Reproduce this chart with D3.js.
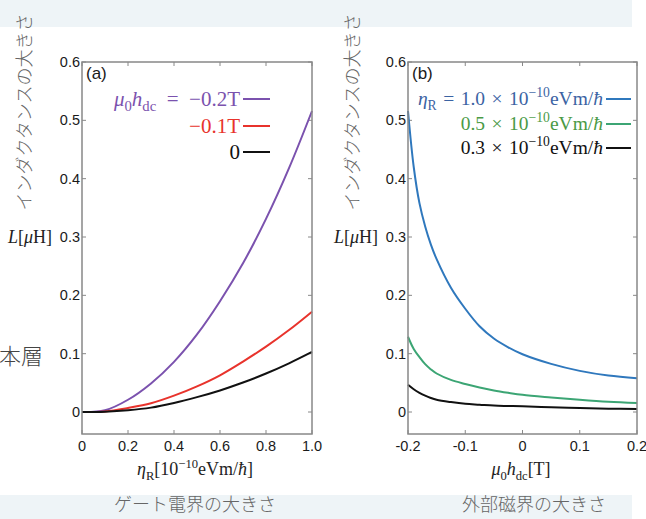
<!DOCTYPE html>
<html>
<head>
<meta charset="utf-8">
<script src="https://cdn.jsdelivr.net/npm/d3@7"></script>
<style>
  body { margin: 0; background: #fff; }
  svg { display: block; }
  .tick-label { font-family: "Liberation Sans", Arial, sans-serif; font-size: 14.5px; fill: #1a1a1a; }
  .math { font-family: "Liberation Serif", "Times New Roman", serif; }
  .jp { font-family: "Noto Sans CJK JP", sans-serif; font-weight: 300; fill: #666; }
</style>
</head>
<body>
<div id="chart"></div>
<script>
// 1: DATA
// panel (a): L vs eta_R for three dc fields
const etaR = [0, 0.1, 0.2, 0.3, 0.4, 0.5, 0.6, 0.7, 0.8, 0.9, 1.0];
const L_m02 = [0, 0.003, 0.021, 0.049, 0.086, 0.133, 0.19, 0.255, 0.331, 0.418, 0.516];
const L_m01 = [0, 0.001, 0.007, 0.015, 0.028, 0.044, 0.063, 0.0865, 0.112, 0.1405, 0.172];
const L_0   = [0, 0.0006, 0.003, 0.0075, 0.0155, 0.0255, 0.037, 0.0505, 0.066, 0.0835, 0.103];

// panel (b): L vs mu0 h_dc for three eta_R
const hdc = [-0.2, -0.19, -0.18, -0.17, -0.16, -0.15, -0.125, -0.1, -0.075, -0.05, -0.025, 0, 0.05, 0.1, 0.15, 0.2];
const L_eta10 = [0.516, 0.42, 0.358, 0.318, 0.287, 0.262, 0.213, 0.177, 0.147, 0.126, 0.111, 0.099, 0.0825, 0.0705, 0.0625, 0.058];
const L_eta05 = [0.129, 0.108, 0.094, 0.082, 0.073, 0.066, 0.055, 0.048, 0.042, 0.037, 0.033, 0.0295, 0.025, 0.021, 0.0176, 0.0153];
const L_eta03 = [0.0466, 0.039, 0.033, 0.028, 0.024, 0.021, 0.017, 0.014, 0.0125, 0.011, 0.0103, 0.0097, 0.008, 0.0068, 0.0057, 0.005];

const yTicks = [0, 0.1, 0.2, 0.3, 0.4, 0.5, 0.6];
const yTickLabels = ["0", "0.1", "0.2", "0.3", "0.4", "0.5", "0.6"];
const xTicksA = [0, 0.2, 0.4, 0.6, 0.8, 1.0];
const xTickLabelsA = ["0", "0.2", "0.4", "0.6", "0.8", "1.0"];
const xTicksB = [-0.2, -0.1, 0, 0.1, 0.2];
const xTickLabelsB = ["-0.2", "-0.1", "0", "0.1", "0.2"];

const W = 646, H = 519;
const plotTop = 62, plotBottom = 434;

const svg = d3.select("#chart").append("svg")
    .attr("width", W)
    .attr("height", H);

// background bands
svg.append("rect").attr("x", 0).attr("y", 0).attr("width", 632).attr("height", 27).attr("fill", "#eef4f7");
svg.append("rect").attr("x", 0).attr("y", 495).attr("width", 632).attr("height", 24).attr("fill", "#eef4f7");

// helper for math-like text made of tspans
function mathText(g, x, y, size, color, anchor, parts) {
    const t = g.append("text")
        .attr("class", "math")
        .attr("x", x).attr("y", y)
        .attr("font-size", size)
        .attr("fill", color)
        .attr("text-anchor", anchor);
    let shift = 0;
    parts.forEach(p => {
        const s = t.append("tspan").text(p.t);
        let target = 0;
        if (p.sub) target = size * 0.25;
        if (p.sup) target = -size * 0.4;
        s.attr("dy", target - shift);
        shift = target;
        if (p.sub || p.sup) s.attr("font-size", size * 0.7);
        if (p.it) s.attr("font-style", "italic");
    });
    return t;
}

function panel(opts) {
    const x = d3.scaleLinear().domain(opts.xDomain).range([opts.left, opts.right]);
    const y = d3.scaleLinear().domain([-0.0377, 0.6]).range([plotBottom, plotTop]);
    const g = svg.append("g");

    // ticks on all four sides (inward)
    const tl = 4;
    opts.xTicks.forEach(v => {
        g.append("line").attr("x1", x(v)).attr("x2", x(v)).attr("y1", plotBottom).attr("y2", plotBottom - tl).attr("stroke", "#888");
        g.append("line").attr("x1", x(v)).attr("x2", x(v)).attr("y1", plotTop).attr("y2", plotTop + tl).attr("stroke", "#888");
    });
    yTicks.forEach(v => {
        g.append("line").attr("x1", opts.left).attr("x2", opts.left + tl).attr("y1", y(v)).attr("y2", y(v)).attr("stroke", "#888");
        g.append("line").attr("x1", opts.right).attr("x2", opts.right - tl).attr("y1", y(v)).attr("y2", y(v)).attr("stroke", "#888");
    });

    // tick labels
    g.selectAll(".xl").data(opts.xTicks).enter().append("text")
        .attr("class", "tick-label")
        .attr("x", d => x(d)).attr("y", 451)
        .attr("text-anchor", "middle")
        .text((d, i) => opts.xTickLabels[i]);
    g.selectAll(".yl").data(yTicks).enter().append("text")
        .attr("class", "tick-label")
        .attr("x", opts.left - 2).attr("y", d => y(d) + 5)
        .attr("text-anchor", "end")
        .text((d, i) => yTickLabels[i]);

    // curves
    const line = d3.line()
        .x(d => x(d[0]))
        .y(d => y(d[1]))
        .curve(d3.curveCatmullRom.alpha(0.5));
    opts.series.forEach(s => {
        g.append("path")
            .datum(opts.xs.map((v, i) => [v, s.values[i]]))
            .attr("d", line)
            .attr("fill", "none")
            .attr("stroke", s.color)
            .attr("stroke-width", 2);
    });

    // frame
    g.append("rect")
        .attr("x", opts.left).attr("y", plotTop)
        .attr("width", opts.right - opts.left).attr("height", plotBottom - plotTop)
        .attr("fill", "none").attr("stroke", "#888").attr("stroke-width", 1.5);

    g.append("text")
        .attr("class", "tick-label")
        .attr("x", opts.left + 4).attr("y", plotTop + 17)
        .style("font-size", "17px")
        .text(opts.tag);

    return { g, x, y };
}

// 2: PANEL (a)
const pa = panel({
    left: 82, right: 312,
    xDomain: [0, 1],
    xTicks: xTicksA, xTickLabels: xTickLabelsA,
    xs: etaR,
    tag: "(a)",
    series: [
        { values: L_m02, color: "#7b52ae" },
        { values: L_m01, color: "#e8332c" },
        { values: L_0, color: "#111" }
    ]
});

// legend (a)
const legA = [
    { y: 99, color: "#7b52ae", parts: [{ t: "μ", it: 1 }, { t: "0", sub: 1 }, { t: "h", it: 1 }, { t: "dc", sub: 1 }, { t: "\u2002=\u2002−0.2T" }] },
    { y: 126, color: "#e8332c", parts: [{ t: "−0.1T" }] },
    { y: 152, color: "#111", parts: [{ t: "0" }] }
];
legA.forEach(l => {
    mathText(pa.g, 240, l.y + 7, 21, l.color, "end", l.parts);
    pa.g.append("line").attr("x1", 243).attr("x2", 270).attr("y1", l.y).attr("y2", l.y)
        .attr("stroke", l.color).attr("stroke-width", 2);
});

mathText(pa.g, 195, 475, 18, "#222", "middle",
    [{ t: "η", it: 1 }, { t: "R", sub: 1 }, { t: "[10" }, { t: "−10", sup: 1 }, { t: "eVm/" }, { t: "ħ", it: 1 }, { t: "]" }]);
mathText(pa.g, 8, 243, 18, "#222", "start",
    [{ t: "L", it: 1 }, { t: "[" }, { t: "μ", it: 1 }, { t: "H]" }]);

// 3: PANEL (b)
const pb = panel({
    left: 408, right: 637,
    xDomain: [-0.2, 0.2],
    xTicks: xTicksB, xTickLabels: xTickLabelsB,
    xs: hdc,
    tag: "(b)",
    series: [
        { values: L_eta10, color: "#2f78bd" },
        { values: L_eta05, color: "#3ca574" },
        { values: L_eta03, color: "#111" }
    ]
});

const legB = [
    { y: 99, color: "#3b63a3", line: "#2f78bd", parts: [{ t: "η", it: 1 }, { t: "R", sub: 1 }, { t: "\u2004=\u20041.0\u2004×\u200410" }, { t: "−10", sup: 1 }, { t: "eVm/" }, { t: "ħ", it: 1 }] },
    { y: 124, color: "#4a9a45", line: "#3ca574", parts: [{ t: "0.5\u2004×\u200410" }, { t: "−10", sup: 1 }, { t: "eVm/" }, { t: "ħ", it: 1 }] },
    { y: 148, color: "#111", line: "#111", parts: [{ t: "0.3\u2004×\u200410" }, { t: "−10", sup: 1 }, { t: "eVm/" }, { t: "ħ", it: 1 }] }
];
legB.forEach(l => {
    mathText(pb.g, 603, l.y + 6, 19.5, l.color, "end", l.parts);
    pb.g.append("line").attr("x1", 606).attr("x2", 631).attr("y1", l.y).attr("y2", l.y)
        .attr("stroke", l.line).attr("stroke-width", 2);
});

mathText(pb.g, 521, 475, 18, "#222", "middle",
    [{ t: "μ", it: 1 }, { t: "0", sub: 1 }, { t: "h", it: 1 }, { t: "dc", sub: 1 }, { t: "[T]" }]);
mathText(pb.g, 334, 243, 18, "#222", "start",
    [{ t: "L", it: 1 }, { t: "[" }, { t: "μ", it: 1 }, { t: "H]" }]);

// 4: JAPANESE LABELS
[25, 353].forEach(cx => {
    svg.append("text")
        .attr("class", "jp")
        .attr("font-size", 18)
        .attr("text-anchor", "middle")
        .attr("transform", `translate(${cx + 6},112) rotate(-90)`)
        .text("インダクタンスの大きさ");
});

svg.append("text")
    .attr("class", "jp")
    .attr("font-size", 22)
    .attr("x", 43).attr("y", 364)
    .attr("text-anchor", "end")
    .style("fill", "#444")
    .text("本層");

svg.append("text").attr("class", "jp").attr("font-size", 18)
    .attr("x", 195).attr("y", 511).attr("text-anchor", "middle")
    .text("ゲート電界の大きさ");
svg.append("text").attr("class", "jp").attr("font-size", 18)
    .attr("x", 534).attr("y", 511).attr("text-anchor", "middle")
    .text("外部磁界の大きさ");
</script>
</body>
</html>
